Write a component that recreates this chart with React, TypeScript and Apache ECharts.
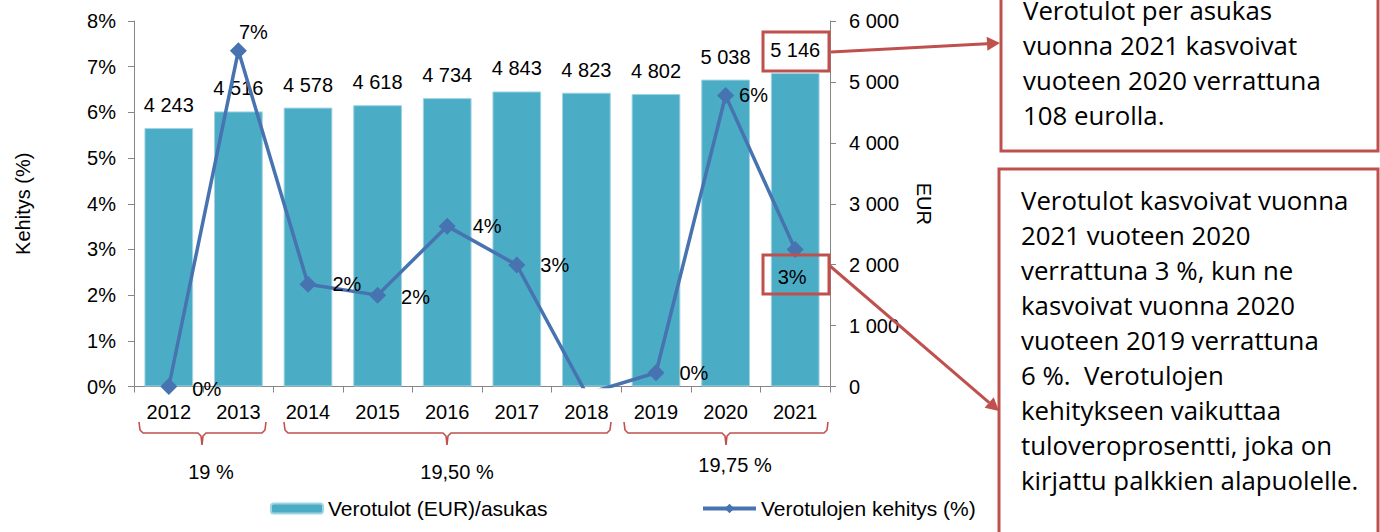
import React, { useEffect, useRef } from 'react';
import * as echarts from 'echarts';

const years = ['2012', '2013', '2014', '2015', '2016', '2017', '2018', '2019', '2020', '2021'];
const taxPerCapita = [4243, 4516, 4578, 4618, 4734, 4843, 4823, 4802, 5038, 5146];
const growthPct = [0.0, 7.35, 2.24, 2.0, 3.51, 2.66, -0.16, 0.3, 6.37, 3.0];
const taxRateLabels = ['19 %', '19,50 %', '19,75 %'];
const barName = 'Verotulot (EUR)/asukas';
const lineName = 'Verotulojen kehitys (%)';
const noteTop = ['Verotulot per asukas', 'vuonna 2021 kasvoivat', 'vuoteen 2020 verrattuna', '108 eurolla.'];
const noteBottom = [
  'Verotulot kasvoivat vuonna',
  '2021 vuoteen 2020',
  'verrattuna 3 %, kun ne',
  'kasvoivat vuonna 2020',
  'vuoteen 2019 verrattuna',
  '6 %.  Verotulojen',
  'kehitykseen vaikuttaa',
  'tuloveroprosentti, joka on',
  'kirjattu palkkien alapuolelle.',
];

const fmt = (n: number) => String(n).replace(/\B(?=(\d{3})+(?!\d))/g, ' ');

const FONT = '"Liberation Sans", Arial, sans-serif';
const NOTE_FONT = '"Open Sans", "Noto Sans", sans-serif';
const RED = '#C0504D';
const AXIS = '#868686';
const LINE = '#4773B0';

const lineLabelStyle: any[] = [
  { position: 'right', distance: 15, offset: [0, 2] },
  { position: 'top', distance: 0, offset: [15, 0] },
  { position: 'right', distance: 16 },
  { position: 'right', distance: 15, offset: [0, 2] },
  { position: 'right', distance: 17 },
  { position: 'right', distance: 15 },
  { position: 'right', distance: 15 },
  { position: 'right', distance: 15 },
  { position: 'right', distance: 5 },
  { position: 'bottom', distance: 9, offset: [-3, 0] },
];

function bracket(L: number, R: number, C: number) {
  const yTop = 422, yMid = 433, yBot = 445;
  return {
    type: 'polyline',
    silent: true,
    shape: {
      points: [
        [L, yTop], [L + 1, yMid - 3], [L + 4, yMid], [C - 4, yMid], [C - 1, yMid + 3], [C, yBot],
        [C + 1, yMid + 3], [C + 4, yMid], [R - 4, yMid], [R - 1, yMid - 3], [R, yTop],
      ],
    },
    style: { stroke: RED, lineWidth: 1.6, fill: null },
  };
}

function arrow(x1: number, y1: number, x2: number, y2: number) {
  const dx = x2 - x1, dy = y2 - y1;
  const len = Math.sqrt(dx * dx + dy * dy);
  const ux = dx / len, uy = dy / len;
  const hl = 13, hw = 7;
  const bx = x2 - ux * hl, by = y2 - uy * hl;
  return [
    { type: 'line', silent: true, z: 20, shape: { x1, y1, x2: bx, y2: by }, style: { stroke: RED, lineWidth: 3 } },
    {
      type: 'polygon', silent: true, z: 20,
      shape: { points: [[x2, y2], [bx - uy * hw, by + ux * hw], [bx + uy * hw, by - ux * hw]] },
      style: { fill: RED },
    },
  ];
}

export default function App() {
  const ref = useRef<HTMLDivElement>(null);
  useEffect(() => {
    if (!ref.current) return;
    const chart = echarts.init(ref.current, null, { renderer: 'svg', width: 1380, height: 532 });
    const groupPix = [
      { L: 139, R: 266, C: 202, ty: 472, tx: 211 },
      { L: 284, R: 611, C: 447, ty: 472, tx: 457 },
      { L: 624, R: 828, C: 726, ty: 465, tx: 735 },
    ];
    const graphic: any[] = [];
    groupPix.forEach((g, i) => {
      graphic.push(bracket(g.L, g.R, g.C));
      graphic.push({
        type: 'text', silent: true, x: g.tx, y: g.ty,
        style: { text: taxRateLabels[i], font: `20px ${FONT}`, fill: '#000', textAlign: 'center', textVerticalAlign: 'middle' },
      });
    });
    graphic.push({ type: 'rect', silent: true, z: 20, shape: { x: 763, y: 32, width: 66, height: 39 }, style: { fill: null, stroke: RED, lineWidth: 3 } });
    graphic.push({ type: 'rect', silent: true, z: 20, shape: { x: 763, y: 255, width: 66, height: 39 }, style: { fill: null, stroke: RED, lineWidth: 3 } });
    graphic.push(...arrow(831, 52, 1000, 43));
    graphic.push(...arrow(830, 266, 999, 411));
    graphic.push({ type: 'rect', silent: true, z: 21, shape: { x: 1001, y: -10, width: 377, height: 161 }, style: { fill: '#fff', stroke: RED, lineWidth: 3 } });
    graphic.push({ type: 'rect', silent: true, z: 21, shape: { x: 999, y: 169, width: 379, height: 400 }, style: { fill: '#fff', stroke: RED, lineWidth: 3 } });
    graphic.push({
      type: 'text', silent: true, z: 22, x: 1023, y: -7.5,
      style: { text: noteTop.join('\n'), font: `25.8px ${NOTE_FONT}`, lineHeight: 35, fill: '#000', textVerticalAlign: 'top' },
    });
    graphic.push({
      type: 'text', silent: true, z: 22, x: 1021, y: 182.5,
      style: { text: noteBottom.join('\n'), font: `25.8px ${NOTE_FONT}`, lineHeight: 35, fill: '#000', textVerticalAlign: 'top' },
    });

    chart.setOption({
      animation: false,
      textStyle: { fontFamily: FONT },
      grid: { left: 134, top: 21, width: 696, height: 365.5, containLabel: false },
      legend: [
        {
          data: [barName], left: 270, top: 498, padding: 0, itemWidth: 52, itemHeight: 10, itemGap: 0,
          textStyle: { fontSize: 21, color: '#000', fontFamily: FONT },
        },
        {
          data: [lineName], left: 701, top: 498, padding: 0, itemWidth: 53, itemHeight: 12, itemGap: 0,
          lineStyle: { width: 4, color: LINE },
          itemStyle: { color: LINE },
          textStyle: { fontSize: 21, color: '#000', fontFamily: FONT },
        },
      ],
      xAxis: {
        type: 'category',
        data: years,
        axisLine: { show: true, lineStyle: { color: AXIS, width: 1 } },
        axisTick: { show: true, alignWithLabel: false, length: 6, lineStyle: { color: AXIS } },
        axisLabel: { fontSize: 20, color: '#000', margin: 15, fontFamily: FONT },
      },
      yAxis: [
        {
          type: 'value', position: 'left', min: 0, max: 8, interval: 1,
          name: 'Kehitys (%)', nameLocation: 'middle', nameRotate: 90, nameGap: 101,
          nameTextStyle: { fontSize: 20, color: '#000', fontFamily: FONT },
          axisLine: { show: true, lineStyle: { color: AXIS, width: 1 } },
          axisTick: { show: true, length: 6, lineStyle: { color: AXIS } },
          axisLabel: { formatter: '{value}%', fontSize: 20, color: '#000', margin: 18, fontFamily: FONT },
          splitLine: { show: false },
        },
        {
          type: 'value', position: 'right', min: 0, max: 6000, interval: 1000,
          name: 'EUR', nameLocation: 'middle', nameRotate: -90, nameGap: 84,
          nameTextStyle: { fontSize: 20, color: '#000', fontFamily: FONT },
          axisLine: { show: true, lineStyle: { color: AXIS, width: 1 } },
          axisTick: { show: true, length: 6, lineStyle: { color: AXIS } },
          axisLabel: { formatter: (v: number) => fmt(v), fontSize: 20, color: '#000', margin: 19, fontFamily: FONT },
          splitLine: { show: false },
        },
      ],
      series: [
        {
          name: barName,
          type: 'bar',
          yAxisIndex: 1,
          data: taxPerCapita,
          barCategoryGap: '30%',
          itemStyle: { color: '#4BACC6', borderColor: '#9fd4e2', borderWidth: 1 },
          label: {
            show: true, position: 'top', distance: 13, fontSize: 20, color: '#000', fontFamily: FONT,
            formatter: (p: any) => fmt(p.value),
          },
          z: 2,
        },
        {
          name: lineName,
          type: 'line',
          yAxisIndex: 0,
          symbol: 'diamond',
          symbolSize: 17,
          clip: true,
          lineStyle: { color: LINE, width: 3.5 },
          itemStyle: { color: LINE },
          data: growthPct.map((v, i) => ({
            value: v,
            label: {
              show: v >= 0,
              fontSize: 20, color: '#000', fontFamily: FONT,
              formatter: (p: any) => `${Math.round(p.value)}%`,
              ...lineLabelStyle[i],
            },
          })),
          z: 5,
        },
      ],
      graphic,
    });
    return () => chart.dispose();
  }, []);
  return <div ref={ref} style={{ position: 'fixed', left: 0, top: 0, width: 1380, height: 532, background: '#fff' }} />;
}
